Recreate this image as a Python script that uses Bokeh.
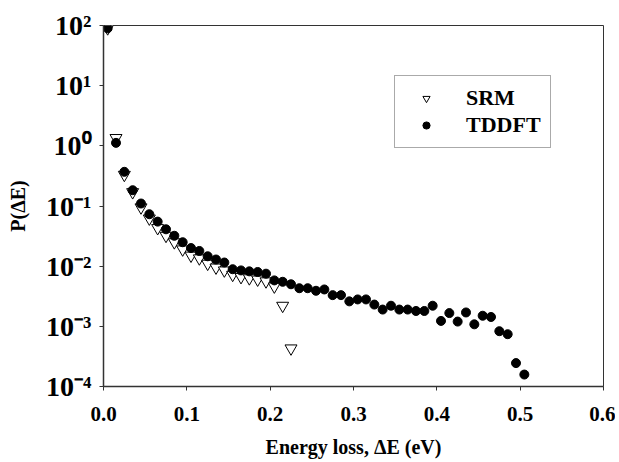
from bokeh.plotting import figure
from bokeh.models import Legend, LegendItem, CustomJSTickFormatter, FixedTicker
from bokeh.embed import file_html
from bokeh.resources import INLINE

# TDDFT data
tddft_x = [0.005, 0.015, 0.025, 0.035, 0.045, 0.055, 0.065, 0.075, 0.085, 0.095,
           0.105, 0.115, 0.125, 0.135, 0.145, 0.155, 0.165, 0.175, 0.185, 0.195,
           0.205, 0.215, 0.225, 0.235, 0.245, 0.255, 0.265, 0.275, 0.285, 0.295,
           0.305, 0.315, 0.325, 0.335, 0.345, 0.355, 0.365, 0.375, 0.385, 0.395,
           0.405, 0.415, 0.425, 0.435, 0.445, 0.455, 0.465, 0.475, 0.485, 0.495,
           0.505]
tddft_y = [90, 1.12, 0.37, 0.183, 0.11, 0.073, 0.055, 0.041, 0.032, 0.025,
           0.020, 0.0179, 0.0146, 0.0129, 0.0115, 0.0089, 0.0085, 0.0082, 0.0080, 0.0075,
           0.0058, 0.0055, 0.0050, 0.0043, 0.0043, 0.0039, 0.0041, 0.0033, 0.0033, 0.0026,
           0.0028, 0.0028, 0.0023, 0.0019, 0.0022, 0.0019, 0.0019, 0.0018, 0.0018, 0.0022,
           0.00123, 0.00166, 0.0012, 0.0017, 0.00108, 0.0015, 0.00143, 0.00083, 0.00074, 0.000245,
           0.000158]

# SRM data
srm_x = [0.005, 0.015, 0.025, 0.035, 0.045, 0.055, 0.065, 0.075, 0.085, 0.095,
         0.105, 0.115, 0.125, 0.135, 0.145, 0.155, 0.165, 0.175, 0.185, 0.195,
         0.205, 0.215, 0.225]
srm_y = [90, 1.35, 0.33, 0.17, 0.095, 0.062, 0.043, 0.032, 0.025, 0.019,
         0.015, 0.0135, 0.011, 0.0095, 0.0085, 0.0072, 0.0066, 0.0063, 0.0060, 0.0056,
         0.0046, 0.0022, 0.00043]

x_ticks = [0.0, 0.1, 0.2, 0.3, 0.4, 0.5, 0.6]
y_ticks = [1e-4, 1e-3, 1e-2, 1e-1, 1e0, 1e1, 1e2]

FONT = "Liberation Serif"

p = figure(frame_width=500, frame_height=361, output_backend="svg", toolbar_location=None,
           x_range=(0, 0.6), y_range=(1e-4, 1e2), y_axis_type="log",
           min_border_left=103, min_border_right=12, min_border_top=25, min_border_bottom=60)

p.grid.visible = False
p.outline_line_color = "#333333"
p.outline_line_width = 1
p.background_fill_color = "white"
p.border_fill_color = "white"

r_srm = p.scatter(srm_x, srm_y, marker="inverted_triangle", size=12,
                  fill_color="white", line_color="black", line_width=1)
r_tddft = p.scatter(tddft_x, tddft_y, marker="circle", size=9,
                    fill_color="black", line_color="black")

# axes
p.xaxis.ticker = FixedTicker(ticks=x_ticks)
p.xaxis.formatter = CustomJSTickFormatter(code="return tick.toFixed(1);")
p.yaxis.ticker = FixedTicker(ticks=y_ticks)
p.yaxis.formatter = CustomJSTickFormatter(code="""
const e = Math.round(Math.log10(tick));
const sup = {'-':'\u207B','0':'\u2070','1':'\u00B9','2':'\u00B2','3':'\u00B3','4':'\u2074'};
return '10' + String(e).split('').map(c => sup[c]).join('');
""")
for ax in (p.xaxis[0], p.yaxis[0]):
    ax.axis_line_color = "#333333"
    ax.axis_line_width = 1.5
    ax.major_tick_line_color = "#333333"
    ax.major_tick_in = 0
    ax.major_tick_out = 4
    ax.minor_tick_line_color = None
    ax.major_label_text_font = FONT
    ax.major_label_text_font_style = "bold"
    ax.major_label_text_color = "black"
    ax.axis_label_text_font = FONT
    ax.axis_label_text_font_style = "bold"
    ax.axis_label_text_color = "black"
    ax.axis_label_text_font_size = "20px"

p.xaxis.major_label_text_font_size = "21px"
p.xaxis.major_label_standoff = 16
p.xaxis.axis_label = "Energy loss, \u0394E (eV)"
p.xaxis.axis_label_standoff = 12
p.yaxis.major_label_text_font_size = "28px"
p.yaxis.major_label_standoff = 8
p.yaxis.axis_label = "P(\u0394E)"
p.yaxis.axis_label_standoff = 14

legend = Legend(items=[LegendItem(label="SRM", renderers=[r_srm]),
                       LegendItem(label="TDDFT", renderers=[r_tddft])],
                location=(291, 238), padding=9, glyph_width=44, glyph_height=18,
                label_standoff=18, spacing=1, label_height=21,
                label_text_font=FONT, label_text_font_style="bold",
                label_text_font_size="22px", label_text_color="black",
                border_line_color="#555555", border_line_width=1,
                background_fill_color="white", background_fill_alpha=1.0)
p.add_layout(legend)

open("out.html", "w").write(file_html(p, INLINE))
